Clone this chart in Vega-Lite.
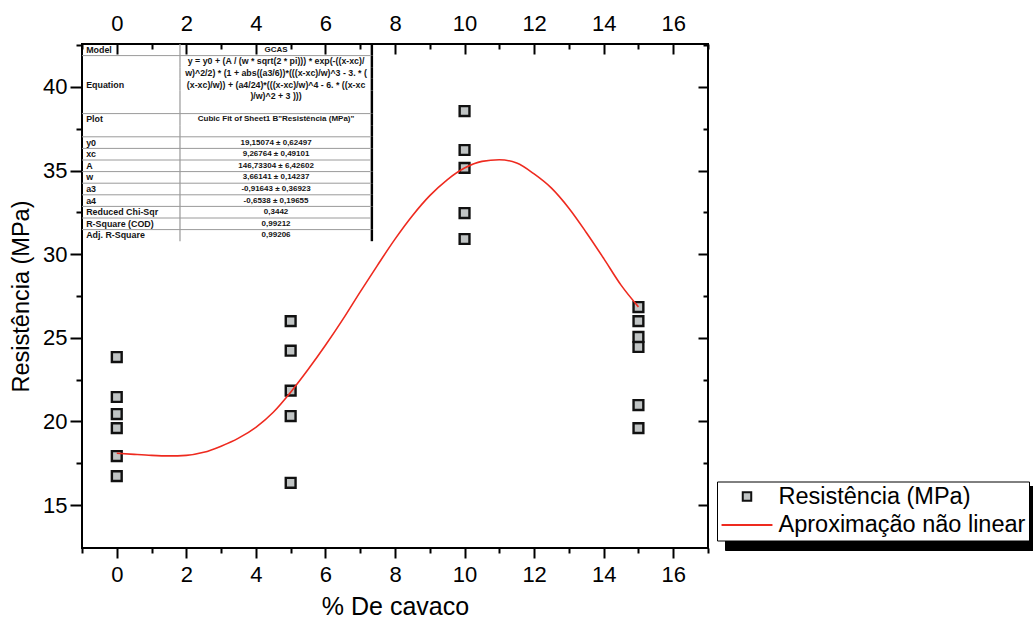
{
  "$schema": "https://vega.github.io/schema/vega-lite/v6.json",
  "width": 626,
  "height": 504,
  "autosize": {"type": "none"},
  "padding": {"left": 82, "top": 44, "right": 325, "bottom": 75},
  "background": "white",
  "config": {
    "view": {"stroke": "#000", "strokeWidth": 2},
    "font": "Liberation Sans",
    "axis": {
      "grid": false,
      "domain": false,
      "tickColor": "#000",
      "tickWidth": 2,
      "labelColor": "#000",
      "titleColor": "#000",
      "labelFont": "Liberation Sans",
      "titleFont": "Liberation Sans",
      "titleFontWeight": "normal",
      "labelOverlap": false,
      "labelFlush": false
    },
    "legend": {
      "title": null,
      "orient": "none",
      "labelFont": "Liberation Sans",
      "labelFontSize": 23.5,
      "labelColor": "#000",
      "labelLimit": 400
    }
  },
  "datasets": {
    "pontos": [
      {"cavaco": 0, "resistencia": 23.85},
      {"cavaco": 0, "resistencia": 21.46},
      {"cavaco": 0, "resistencia": 20.44},
      {"cavaco": 0, "resistencia": 19.6},
      {"cavaco": 0, "resistencia": 17.93},
      {"cavaco": 0, "resistencia": 16.73},
      {"cavaco": 5, "resistencia": 26.0},
      {"cavaco": 5, "resistencia": 24.23},
      {"cavaco": 5, "resistencia": 21.84},
      {"cavaco": 5, "resistencia": 20.32},
      {"cavaco": 5, "resistencia": 16.33},
      {"cavaco": 10, "resistencia": 38.56},
      {"cavaco": 10, "resistencia": 36.23},
      {"cavaco": 10, "resistencia": 35.16},
      {"cavaco": 10, "resistencia": 32.46},
      {"cavaco": 10, "resistencia": 30.91},
      {"cavaco": 15, "resistencia": 26.84},
      {"cavaco": 15, "resistencia": 26.0},
      {"cavaco": 15, "resistencia": 25.05},
      {"cavaco": 15, "resistencia": 24.45},
      {"cavaco": 15, "resistencia": 20.98},
      {"cavaco": 15, "resistencia": 19.6}
    ],
    "curva": [
      {"cavaco": 0, "resistencia": 18.1},
      {"cavaco": 0.5, "resistencia": 18.03},
      {"cavaco": 1, "resistencia": 17.97},
      {"cavaco": 1.5, "resistencia": 17.94},
      {"cavaco": 2, "resistencia": 17.97},
      {"cavaco": 2.5, "resistencia": 18.15},
      {"cavaco": 3, "resistencia": 18.52},
      {"cavaco": 3.5, "resistencia": 19.0},
      {"cavaco": 4, "resistencia": 19.65},
      {"cavaco": 4.5, "resistencia": 20.55},
      {"cavaco": 5, "resistencia": 21.75},
      {"cavaco": 5.5, "resistencia": 23.1},
      {"cavaco": 6, "resistencia": 24.55},
      {"cavaco": 6.5, "resistencia": 26.1},
      {"cavaco": 7, "resistencia": 27.75},
      {"cavaco": 7.5, "resistencia": 29.35},
      {"cavaco": 8, "resistencia": 30.9},
      {"cavaco": 8.5, "resistencia": 32.3},
      {"cavaco": 9, "resistencia": 33.5},
      {"cavaco": 9.5, "resistencia": 34.45},
      {"cavaco": 10, "resistencia": 35.15},
      {"cavaco": 10.5, "resistencia": 35.55},
      {"cavaco": 11, "resistencia": 35.65},
      {"cavaco": 11.5, "resistencia": 35.45},
      {"cavaco": 12, "resistencia": 34.8},
      {"cavaco": 12.5, "resistencia": 33.95},
      {"cavaco": 13, "resistencia": 32.75},
      {"cavaco": 13.5, "resistencia": 31.3},
      {"cavaco": 14, "resistencia": 29.75},
      {"cavaco": 14.5, "resistencia": 28.15},
      {"cavaco": 15, "resistencia": 26.85}
    ],
    "tabela": [
      {"k": "Model", "rot": "Model", "val": "GCAS"},
      {"k": "eq1", "rot": "", "val": "y = y0 + (A / (w * sqrt(2 * pi))) * exp(-((x-xc)/"},
      {"k": "eq2", "rot": "", "val": "w)^2/2) * (1 + abs((a3/6))*(((x-xc)/w)^3 - 3. * ("},
      {"k": "Equation", "rot": "Equation", "val": "(x-xc)/w)) + (a4/24)*(((x-xc)/w)^4 - 6. * ((x-xc"},
      {"k": "eq4", "rot": "", "val": ")/w)^2 + 3 )))"},
      {"k": "eq5", "rot": "", "val": ""},
      {"k": "Plot", "rot": "Plot", "val": "Cubic Fit of Sheet1 B\"Resistência (MPa)\""},
      {"k": "plot2", "rot": "", "val": ""},
      {"k": "y0", "rot": "y0", "val": "19,15074 ± 0,62497"},
      {"k": "xc", "rot": "xc", "val": "9,26764 ± 0,49101"},
      {"k": "A", "rot": "A", "val": "146,73304 ± 6,42602"},
      {"k": "w", "rot": "w", "val": "3,66141 ± 0,14237"},
      {"k": "a3", "rot": "a3", "val": "-0,91643 ± 0,36923"},
      {"k": "a4", "rot": "a4", "val": "-0,6538 ± 0,19655"},
      {"k": "Reduced Chi-Sqr", "rot": "Reduced Chi-Sqr", "val": "0,3442"},
      {"k": "R-Square (COD)", "rot": "R-Square (COD)", "val": "0,99212"},
      {"k": "Adj. R-Square", "rot": "Adj. R-Square", "val": "0,99206"}
    ],
    "divisorias": [
      {"k": "eq1"}, {"k": "Plot"}, {"k": "y0"}, {"k": "xc"}, {"k": "A"}, {"k": "w"},
      {"k": "a3"}, {"k": "a4"}, {"k": "Reduced Chi-Sqr"}, {"k": "R-Square (COD)"}, {"k": "Adj. R-Square"}
    ]
  },
  "layer": [
    {
      "data": {"name": "pontos"},
      "mark": {"type": "point", "filled": true, "fill": "#c0c4c4", "size": 96, "strokeWidth": 2.4, "opacity": 1},
      "encoding": {
        "x": {
          "field": "cavaco", "type": "quantitative",
          "scale": {"domain": [-1, 17], "nice": false, "zero": false},
          "axis": {
            "orient": "bottom",
            "values": [-1, 0, 1, 2, 3, 4, 5, 6, 7, 8, 9, 10, 11, 12, 13, 14, 15, 16, 17],
            "format": "d",
            "labelExpr": "datum.value % 2 === 0 ? datum.label : ''",
            "tickSize": {"condition": {"test": "datum.value % 2 !== 0", "value": 5}, "value": 10},
            "labelFontSize": 22,
            "labelPadding": 6,
            "title": "% De cavaco",
            "titleFontSize": 25,
            "titlePadding": 9
          }
        },
        "y": {
          "field": "resistencia", "type": "quantitative",
          "scale": {"domain": [12.43, 42.57], "nice": false, "zero": false},
          "axis": {
            "orient": "left",
            "values": [15, 17.5, 20, 22.5, 25, 27.5, 30, 32.5, 35, 37.5, 40, 42.5],
            "labelExpr": "datum.value % 5 === 0 ? datum.label : ''",
            "tickSize": {"condition": {"test": "datum.value % 5 !== 0", "value": 6}, "value": 12},
            "labelFontSize": 22,
            "labelPadding": 3,
            "title": "Resistência (MPa)",
            "titleFontSize": 23.5,
            "titlePadding": 9
          }
        },
        "shape": {
          "datum": "Resistência (MPa)",
          "scale": {"domain": ["Resistência (MPa)", "Aproximação não linear"], "range": ["square", "M-6,0H6"]},
          "legend": {
            "legendX": 635, "legendY": 437.5, "padding": 3.25, "rowPadding": 3.5,
            "fillColor": "#ffffff", "strokeColor": "#000000",
            "symbolSize": 72, "symbolStrokeWidth": 2, "symbolFillColor": "#c0c4c4",
            "symbolOffset": 15, "labelOffset": 19.75,
            "zindex": 2,
            "encode": {"legend": {"strokeWidth": {"value": 1.5}}}
          }
        },
        "stroke": {
          "datum": "Resistência (MPa)",
          "scale": {"domain": ["Resistência (MPa)", "Aproximação não linear"], "range": ["#111111", "#ee2a1f"]},
          "legend": {
            "legendX": 635, "legendY": 437.5, "padding": 3.25, "rowPadding": 3.5,
            "fillColor": "#ffffff", "strokeColor": "#000000",
            "symbolSize": 72, "symbolStrokeWidth": 2, "symbolFillColor": "#c0c4c4",
            "symbolOffset": 15, "labelOffset": 19.75,
            "zindex": 2,
            "encode": {"legend": {"strokeWidth": {"value": 1.5}}}
          }
        }
      }
    },
    {
      "data": {"name": "curva"},
      "mark": {"type": "line", "strokeWidth": 1.6, "interpolate": "monotone"},
      "encoding": {
        "x": {
          "field": "cavaco", "type": "quantitative",
          "axis": {
            "orient": "top",
            "values": [-1, 0, 1, 2, 3, 4, 5, 6, 7, 8, 9, 10, 11, 12, 13, 14, 15, 16, 17],
            "format": "d",
            "labelExpr": "datum.value % 2 === 0 ? datum.label : ''",
            "tickSize": {"condition": {"test": "datum.value % 2 !== 0", "value": -5}, "value": -10},
            "labelFontSize": 22,
            "labelPadding": 19,
            "title": null
          }
        },
        "y": {
          "field": "resistencia", "type": "quantitative",
          "scale": {"domain": [12.43, 42.57], "nice": false, "zero": false},
          "axis": {
            "orient": "right",
            "values": [15, 17.5, 20, 22.5, 25, 27.5, 30, 32.5, 35, 37.5, 40, 42.5],
            "labels": false,
            "tickSize": {"condition": {"test": "datum.value % 5 !== 0", "value": -5}, "value": -10},
            "title": null
          }
        },
        "stroke": {
          "datum": "Aproximação não linear",
          "legend": {
            "legendX": 635, "legendY": 437.5, "padding": 3.25, "rowPadding": 3.5,
            "fillColor": "#ffffff", "strokeColor": "#000000",
            "symbolSize": 72, "symbolStrokeWidth": 2, "symbolFillColor": "#c0c4c4",
            "symbolOffset": 15, "labelOffset": 19.75,
            "zindex": 2,
            "encode": {"legend": {"strokeWidth": {"value": 1.5}}}
          }
        }
      }
    },
    {
      "data": {"name": "pontos"},
      "mark": {"type": "point", "opacity": 0},
      "encoding": {
        "strokeDash": {
          "datum": "sombra",
          "scale": {"domain": ["sombra"], "range": [[1, 0]]},
          "legend": {
            "legendX": 643,
            "legendY": 442,
            "padding": 29,
            "fillColor": "#000000",
            "strokeColor": "#000000",
            "symbolSize": 1,
            "symbolOffset": 0,
            "symbolFillColor": "#000000",
            "symbolStrokeColor": "#000000",
            "labelExpr": "'.'",
            "labelFontSize": 4,
            "labelColor": "#000000",
            "labelOffset": 275,
            "zindex": 1
          }
        }
      }
    },
    {
      "data": {"name": "tabela"},
      "mark": {"type": "rect", "fill": "#9a9a9a"},
      "encoding": {
        "x": {"datum": 1.8, "type": "quantitative", "axis": null},
        "x2": {"datum": 1.835},
        "y": {"field": "k", "type": "nominal", "sort": null, "axis": null,
              "scale": {"type": "band", "domain": ["Model", "eq1", "eq2", "Equation", "eq4", "eq5", "Plot", "plot2", "y0", "xc", "A", "w", "a3", "a4", "Reduced Chi-Sqr", "R-Square (COD)", "Adj. R-Square"], "range": [0, 197.2], "paddingInner": 0, "paddingOuter": 0}}
      }
    },
    {
      "data": {"name": "tabela"},
      "mark": {"type": "rect", "fill": "#000"},
      "encoding": {
        "x": {"datum": 7.3, "type": "quantitative", "axis": null},
        "x2": {"datum": 7.37},
        "y": {"field": "k", "type": "nominal", "sort": null, "axis": null,
              "scale": {"type": "band", "domain": ["Model", "eq1", "eq2", "Equation", "eq4", "eq5", "Plot", "plot2", "y0", "xc", "A", "w", "a3", "a4", "Reduced Chi-Sqr", "R-Square (COD)", "Adj. R-Square"], "range": [0, 197.2], "paddingInner": 0, "paddingOuter": 0}}
      }
    },
    {
      "data": {"name": "divisorias"},
      "mark": {"type": "rule", "stroke": "#9a9a9a", "strokeWidth": 1},
      "encoding": {
        "x": {"datum": -1, "type": "quantitative", "axis": null},
        "x2": {"datum": 7.3},
        "y": {"field": "k", "type": "nominal", "sort": null, "axis": null, "bandPosition": 0,
              "scale": {"type": "band", "domain": ["Model", "eq1", "eq2", "Equation", "eq4", "eq5", "Plot", "plot2", "y0", "xc", "A", "w", "a3", "a4", "Reduced Chi-Sqr", "R-Square (COD)", "Adj. R-Square"], "range": [0, 197.2], "paddingInner": 0, "paddingOuter": 0}}
      }
    },
    {
      "mark": {"type": "rule", "stroke": "#000", "strokeWidth": 2},
      "encoding": {
        "x": {"datum": -1, "type": "quantitative", "axis": null},
        "x2": {"datum": 7.37},
        "y": {"datum": "Adj. R-Square", "type": "nominal", "axis": null, "bandPosition": 1,
              "scale": {"type": "band", "domain": ["Model", "eq1", "eq2", "Equation", "eq4", "eq5", "Plot", "plot2", "y0", "xc", "A", "w", "a3", "a4", "Reduced Chi-Sqr", "R-Square (COD)", "Adj. R-Square"], "range": [0, 197.2], "paddingInner": 0, "paddingOuter": 0}}
      }
    },
    {
      "data": {"name": "tabela"},
      "mark": {"type": "text", "align": "left", "baseline": "middle", "font": "Liberation Sans", "fontSize": 8.9, "fontWeight": "bold", "color": "#141414"},
      "encoding": {
        "x": {"datum": -0.88, "type": "quantitative", "axis": null},
        "y": {"field": "k", "type": "nominal", "sort": null, "axis": null,
              "scale": {"type": "band", "domain": ["Model", "eq1", "eq2", "Equation", "eq4", "eq5", "Plot", "plot2", "y0", "xc", "A", "w", "a3", "a4", "Reduced Chi-Sqr", "R-Square (COD)", "Adj. R-Square"], "range": [0, 197.2], "paddingInner": 0, "paddingOuter": 0}},
        "text": {"field": "rot"}
      }
    },
    {
      "data": {"name": "tabela"},
      "mark": {"type": "text", "align": "center", "baseline": "middle", "font": "Liberation Sans", "fontWeight": "bold", "color": "#141414"},
      "encoding": {
        "x": {"datum": 4.58, "type": "quantitative", "axis": null},
        "y": {"field": "k", "type": "nominal", "sort": null, "axis": null,
              "scale": {"type": "band", "domain": ["Model", "eq1", "eq2", "Equation", "eq4", "eq5", "Plot", "plot2", "y0", "xc", "A", "w", "a3", "a4", "Reduced Chi-Sqr", "R-Square (COD)", "Adj. R-Square"], "range": [0, 197.2], "paddingInner": 0, "paddingOuter": 0}},
        "text": {"field": "val"},
        "size": {"condition": {"test": "indexof(['eq1', 'eq2', 'Equation', 'eq4'], datum.k) >= 0", "value": 8.8}, "value": 8}
      }
    }
  ],
  "resolve": {
    "scale": {"y": "independent"},
    "axis": {"x": "independent", "y": "independent"}
  }
}
